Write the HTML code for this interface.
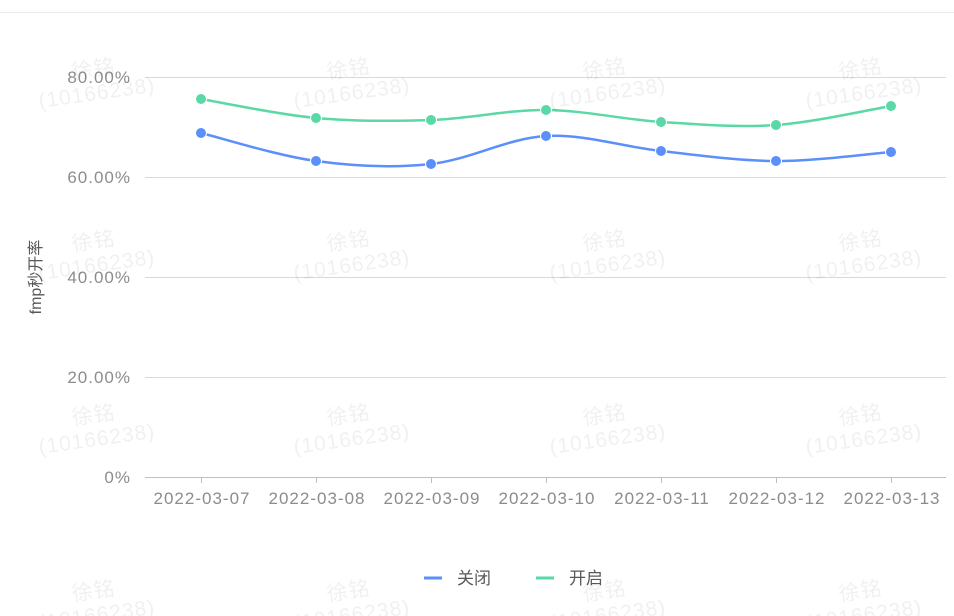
<!DOCTYPE html>
<html><head><meta charset="utf-8"><style>
body{margin:0;background:#fff;}
svg{display:block;font-family:"Liberation Sans","Noto Sans CJK SC",sans-serif;}
</style></head><body>
<svg width="954" height="616" viewBox="0 0 954 616">
<line x1="0" y1="12.5" x2="954" y2="12.5" stroke="#e8e8ee"/>
<g stroke="#d9d9d9" stroke-width="1">
<line x1="145" y1="77.5" x2="946" y2="77.5"/>
<line x1="145" y1="177.5" x2="946" y2="177.5"/>
<line x1="145" y1="277.5" x2="946" y2="277.5"/>
<line x1="145" y1="377.5" x2="946" y2="377.5"/>
</g>
<line x1="145" y1="477.5" x2="946" y2="477.5" stroke="#bfbfbf"/>
<g stroke="#bfbfbf"><line x1="201.5" y1="477" x2="201.5" y2="483"/><line x1="316.5" y1="477" x2="316.5" y2="483"/><line x1="431.5" y1="477" x2="431.5" y2="483"/><line x1="546.5" y1="477" x2="546.5" y2="483"/><line x1="661.5" y1="477" x2="661.5" y2="483"/><line x1="776.5" y1="477" x2="776.5" y2="483"/><line x1="891.5" y1="477" x2="891.5" y2="483"/></g>
<g fill="#8c8c8c" font-size="17" letter-spacing="1" text-anchor="end">
<text x="131" y="83">80.00%</text><text x="131" y="183">60.00%</text><text x="131" y="283">40.00%</text><text x="131" y="383">20.00%</text><text x="131" y="483">0%</text>
</g>
<g fill="#8c8c8c" font-size="17" letter-spacing="1" text-anchor="middle">
<text x="202" y="504">2022-03-07</text><text x="317" y="504">2022-03-08</text><text x="432" y="504">2022-03-09</text><text x="547" y="504">2022-03-10</text><text x="662" y="504">2022-03-11</text><text x="777" y="504">2022-03-12</text><text x="892" y="504">2022-03-13</text>
</g>
<text transform="translate(41,277) rotate(-90)" text-anchor="middle" fill="#595959" font-size="16">fmp秒开率</text>
<path d="M201,133 C220.2,137.7 277.7,155.8 316,161 C354.3,166.2 392.7,168.2 431,164 C469.3,159.8 507.7,138.2 546,136 C584.3,133.8 622.7,146.8 661,151 C699.3,155.2 737.7,160.8 776,161 C814.3,161.2 871.8,153.5 891,152" fill="none" stroke="#5b8ff9" stroke-width="2.5"/>
<path d="M201,99 C220.2,102.2 277.7,114.5 316,118 C354.3,121.5 392.7,121.3 431,120 C469.3,118.7 507.7,109.7 546,110 C584.3,110.3 622.7,119.5 661,122 C699.3,124.5 737.7,127.7 776,125 C814.3,122.3 871.8,109.2 891,106" fill="none" stroke="#5ad8a6" stroke-width="2.5"/>
<g fill="#5b8ff9" stroke="#fff" stroke-width="1"><circle cx="201" cy="133" r="5.5"/><circle cx="316" cy="161" r="5.5"/><circle cx="431" cy="164" r="5.5"/><circle cx="546" cy="136" r="5.5"/><circle cx="661" cy="151" r="5.5"/><circle cx="776" cy="161" r="5.5"/><circle cx="891" cy="152" r="5.5"/></g>
<g fill="#5ad8a6" stroke="#fff" stroke-width="1"><circle cx="201" cy="99" r="5.5"/><circle cx="316" cy="118" r="5.5"/><circle cx="431" cy="120" r="5.5"/><circle cx="546" cy="110" r="5.5"/><circle cx="661" cy="122" r="5.5"/><circle cx="776" cy="125" r="5.5"/><circle cx="891" cy="106" r="5.5"/></g>
<line x1="424" y1="578" x2="442" y2="578" stroke="#5b8ff9" stroke-width="3"/>
<text x="457" y="584" fill="#595959" font-size="17">关闭</text>
<line x1="536" y1="578" x2="554" y2="578" stroke="#5ad8a6" stroke-width="3"/>
<text x="569" y="584" fill="#595959" font-size="17">开启</text>
<g fill="#000" fill-opacity="0.06" font-size="21" letter-spacing="1" text-anchor="middle">
<g transform="translate(95,80) rotate(-8)"><text y="-4">徐铭</text><text y="20">(10166238)</text></g>
<g transform="translate(350,80) rotate(-8)"><text y="-4">徐铭</text><text y="20">(10166238)</text></g>
<g transform="translate(606,80) rotate(-8)"><text y="-4">徐铭</text><text y="20">(10166238)</text></g>
<g transform="translate(862,80) rotate(-8)"><text y="-4">徐铭</text><text y="20">(10166238)</text></g>
<g transform="translate(95,252) rotate(-8)"><text y="-4">徐铭</text><text y="20">(10166238)</text></g>
<g transform="translate(350,252) rotate(-8)"><text y="-4">徐铭</text><text y="20">(10166238)</text></g>
<g transform="translate(606,252) rotate(-8)"><text y="-4">徐铭</text><text y="20">(10166238)</text></g>
<g transform="translate(862,252) rotate(-8)"><text y="-4">徐铭</text><text y="20">(10166238)</text></g>
<g transform="translate(95,426) rotate(-8)"><text y="-4">徐铭</text><text y="20">(10166238)</text></g>
<g transform="translate(350,426) rotate(-8)"><text y="-4">徐铭</text><text y="20">(10166238)</text></g>
<g transform="translate(606,426) rotate(-8)"><text y="-4">徐铭</text><text y="20">(10166238)</text></g>
<g transform="translate(862,426) rotate(-8)"><text y="-4">徐铭</text><text y="20">(10166238)</text></g>
<g transform="translate(95,602) rotate(-8)"><text y="-4">徐铭</text><text y="20">(10166238)</text></g>
<g transform="translate(350,602) rotate(-8)"><text y="-4">徐铭</text><text y="20">(10166238)</text></g>
<g transform="translate(606,602) rotate(-8)"><text y="-4">徐铭</text><text y="20">(10166238)</text></g>
<g transform="translate(862,602) rotate(-8)"><text y="-4">徐铭</text><text y="20">(10166238)</text></g>
</g>
</svg>
</body></html>
